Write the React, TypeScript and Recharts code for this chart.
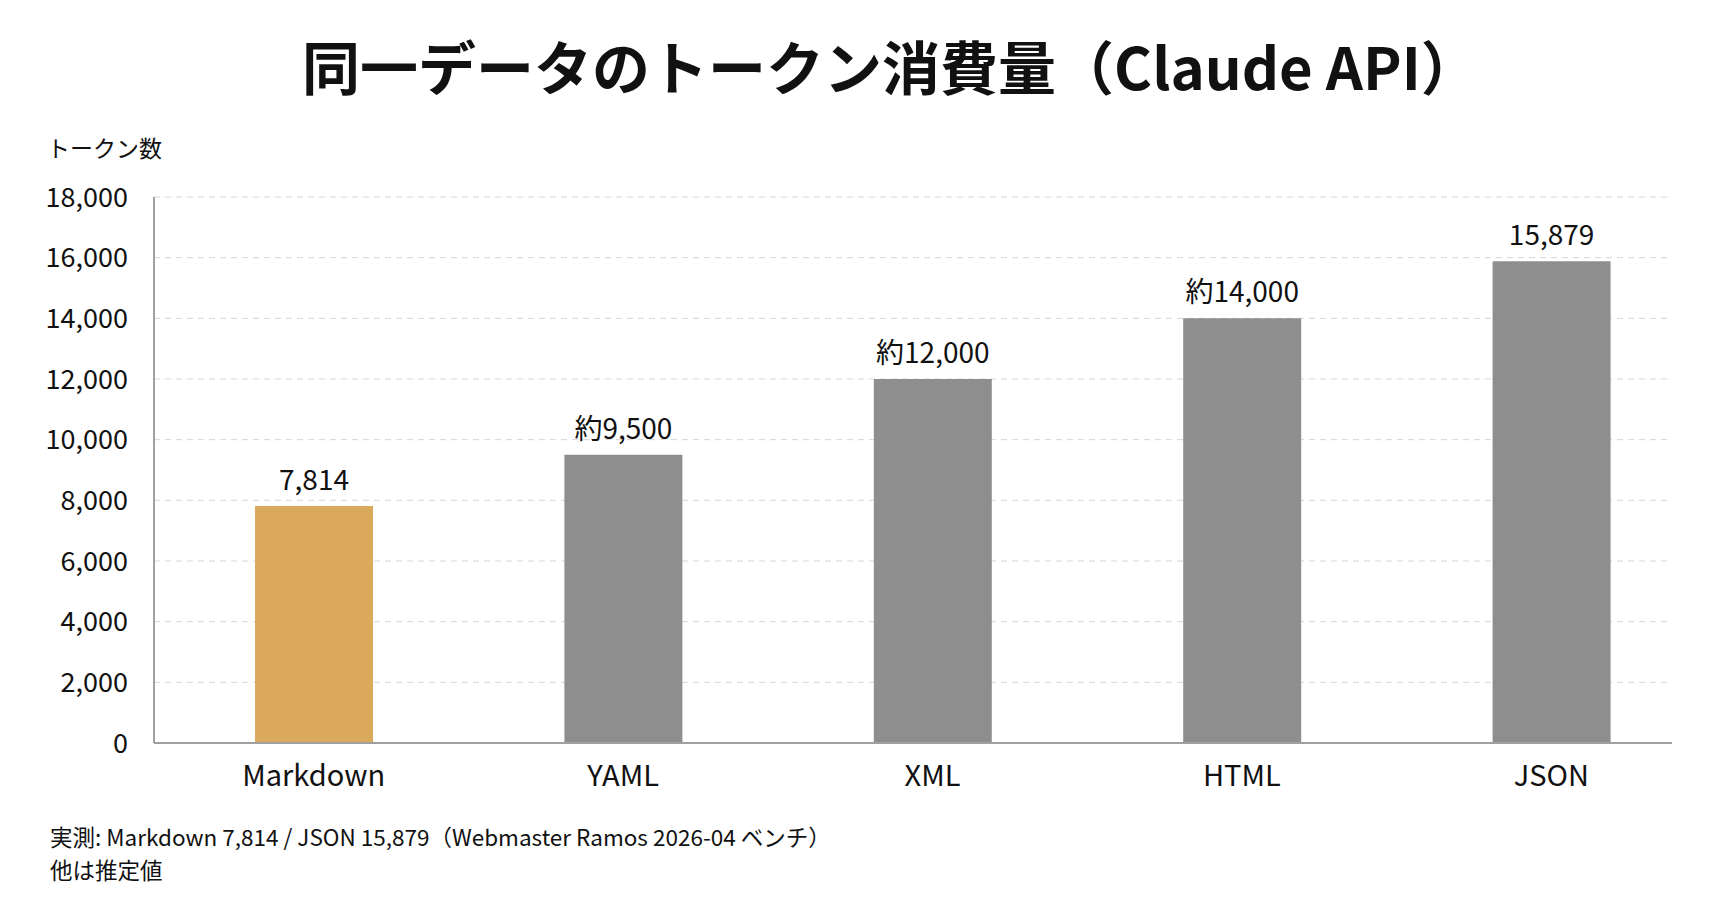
import { Bar, BarChart, CartesianGrid, Cell, LabelList, XAxis, YAxis } from 'recharts'

const formats = ['Markdown', 'YAML', 'XML', 'HTML', 'JSON']
const tokens = [7814, 9500, 12000, 14000, 15879]
const valueLabels = ['7,814', '約9,500', '約12,000', '約14,000', '15,879']
const barColors = ['#dba95b', '#8e8e8e', '#8e8e8e', '#8e8e8e', '#8e8e8e']
const yTicks = [0, 2000, 4000, 6000, 8000, 10000, 12000, 14000, 16000, 18000]

const FONT = "'Noto Sans CJK JP', 'Noto Sans', sans-serif"

const App = () => {
    const data = formats.map((name, i) => ({ name, tokens: tokens[i], label: valueLabels[i] }))

    return (
        <div style={{ position: 'absolute', left: 0, top: 0, width: 1731, height: 909, background: '#fff', fontFamily: FONT, color: '#111' }}>
            <div style={{ position: 'absolute', left: 25, width: 1731, top: 32, textAlign: 'center', fontSize: 58, fontWeight: 700, lineHeight: '66px' }}>
                同一データのトークン消費量（Claude API）
            </div>
            <div style={{ position: 'absolute', left: 47, top: 135, fontSize: 23, lineHeight: '24px' }}>
                トークン数
            </div>
            <div style={{ position: 'absolute', left: 0, top: 150 }}>
                <BarChart width={1731} height={650} data={data} margin={{ top: 47, right: 59, bottom: 7, left: 0 }}>
                    <CartesianGrid vertical={false} stroke="#d6d6d6" strokeDasharray="6 5" />
                    <XAxis
                        dataKey="name"
                        padding={{ left: 5, right: -34 }}
                        tickLine={false}
                        tickSize={6}
                        tickMargin={16}
                        height={50}
                        axisLine={{ stroke: '#a0a0a0', strokeWidth: 2 }}
                        tick={{ fontSize: 29, fill: '#111', fontFamily: FONT }}
                    />
                    <YAxis
                        width={154}
                        domain={[0, 18000]}
                        ticks={yTicks}
                        tickFormatter={(v: number) => v.toLocaleString('en-US')}
                        tickLine={false}
                        tickSize={8}
                        tickMargin={18}
                        axisLine={{ stroke: '#a0a0a0', strokeWidth: 2 }}
                        tick={{ fontSize: 27, fill: '#111', fontFamily: FONT }}
                    />
                    <Bar dataKey="tokens" barSize={118} isAnimationActive={false}>
                        {data.map((d, i) => (
                            <Cell key={d.name} fill={barColors[i]} />
                        ))}
                        <LabelList dataKey="label" position="top" offset={16} style={{ fontSize: 28, fill: '#111', fontFamily: FONT }} />
                    </Bar>
                </BarChart>
            </div>
            <div style={{ position: 'absolute', left: 50, top: 820, fontSize: 22.5, lineHeight: '33px' }}>
                実測: Markdown 7,814 / JSON 15,879（Webmaster Ramos 2026-04 ベンチ）<br />
                他は推定値
            </div>
        </div>
    )
}

export default App
